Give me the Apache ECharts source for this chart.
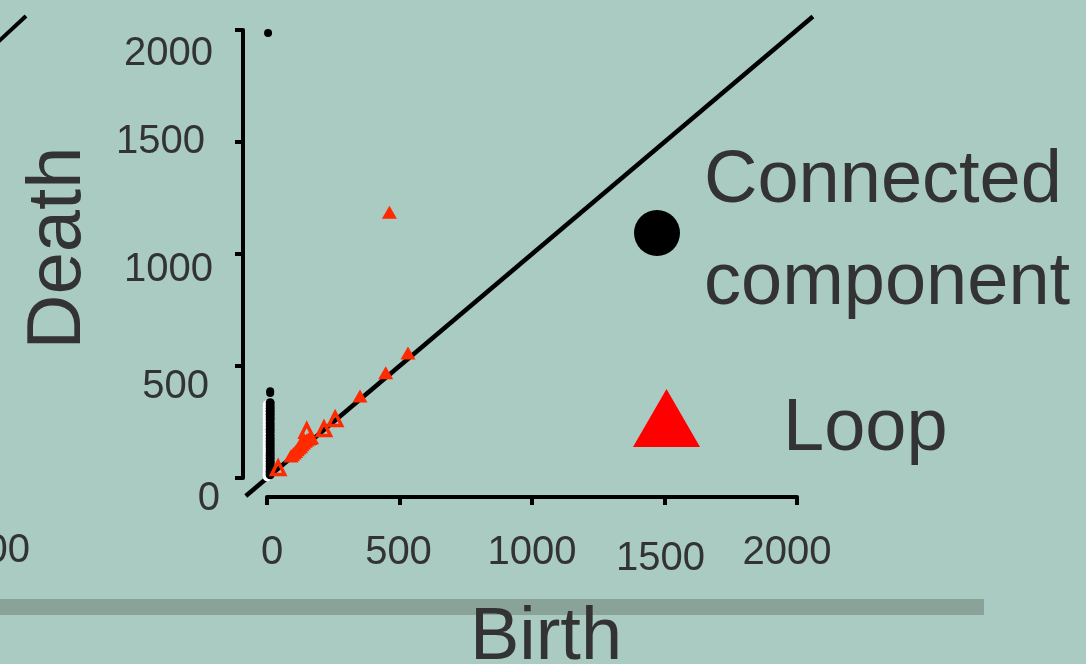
<!DOCTYPE html>
<html>
<head>
<meta charset="utf-8">
<script src="https://cdn.jsdelivr.net/npm/echarts@6/dist/echarts.min.js"></script>
<style>
  html, body { margin: 0; padding: 0; background: #a9cbc2; }
  #chart { width: 1086px; height: 664px; }
</style>
</head>
<body>
<div id="chart"></div>
<script>
// Persistence diagram: birth vs death of topological features.
const axisTicks = [0, 500, 1000, 1500, 2000];
const diagonal = [-80, 2060];

// Connected components (H0): [birth, death]
const componentColumn = [
  [12, 14], [12, 22], [12, 30], [12, 40], [12, 52], [12, 63], [12, 75], [12, 88],
  [12, 100], [12, 112], [12, 125], [12, 138], [12, 150], [12, 163], [12, 175],
  [12, 190], [12, 205], [12, 218], [12, 232], [12, 245], [12, 260], [12, 272],
  [12, 285], [12, 298], [12, 310], [12, 322], [12, 336]
];
const componentOther = [[12, 380], [12, 387], [4, 1987]];

// Loops (H1): [birth, death]
const loopsFilled = [
  [462, 1186], [532, 558], [448, 470], [351, 366],
  [90, 98], [96, 104], [102, 112], [108, 118], [114, 126], [120, 134], [126, 140],
  [132, 148], [138, 156], [144, 164], [150, 170], [156, 174], [162, 176], [168, 180],
  [140, 172], [130, 160]
];
const loopsOpen = [[42, 45], [150, 211], [215, 219], [257, 263]];

const FONT = '"Liberation Sans", Arial, sans-serif';
const TEXT = '#333333';
const RED = '#ff2a00';

// small per-tick nudges of the tick labels
const xNudge = { 0: [5, 0], 500: [-1, 0], 1000: [0, 0], 1500: [-4, 3], 2000: [-10, 0] };
const yNudge = { 0: [0, 21], 500: [11, 21], 1000: [7, 16], 1500: [15, 0], 2000: [7, 24] };

function xRich() {
  const r = {};
  axisTicks.forEach(v => {
    const [dx, dy] = xNudge[v];
    r['t' + v] = {
      fontSize: 40, color: TEXT, fontFamily: FONT,
      padding: [Math.max(dy, 0) * 2, Math.max(-dx, 0) * 2, 0, Math.max(dx, 0) * 2]
    };
  });
  return r;
}
function yRich() {
  const r = {};
  axisTicks.forEach(v => {
    const [dr, dy] = yNudge[v];
    r['t' + v] = {
      fontSize: 40, color: TEXT, fontFamily: FONT,
      padding: [Math.max(dy, 0) * 2, dr, Math.max(-dy, 0) * 2, 0]
    };
  });
  return r;
}

const chart = echarts.init(document.getElementById('chart'), null, { renderer: 'canvas' });

chart.setOption({
  backgroundColor: '#a9cbc2',
  animation: false,
  textStyle: { fontFamily: FONT },
  grid: { left: 267, top: 30, width: 530, height: 448, containLabel: false, outerBoundsMode: 'none' },
  xAxis: {
    type: 'value',
    min: axisTicks[0], max: axisTicks[axisTicks.length - 1], interval: 500,
    offset: 19,
    name: 'Birth', nameLocation: 'middle', nameGap: 105,
    nameTextStyle: { fontSize: 74, color: TEXT, fontFamily: FONT, padding: [0, 0, 0, 28] },
    axisLine: { onZero: false, lineStyle: { color: '#000', width: 4 } },
    axisTick: { length: 8, lineStyle: { color: '#000', width: 4 } },
    axisLabel: { margin: 36, formatter: v => '{t' + v + '|' + v + '}', rich: xRich() },
    splitLine: { show: false }
  },
  yAxis: {
    type: 'value',
    min: axisTicks[0], max: axisTicks[axisTicks.length - 1], interval: 500,
    offset: 24,
    name: 'Death', nameLocation: 'middle', nameGap: 146,
    nameTextStyle: { fontSize: 76, color: TEXT, fontFamily: FONT, padding: [0, 0, 0, 12] },
    axisLine: { onZero: false, lineStyle: { color: '#000', width: 4 } },
    axisTick: { length: 8, lineStyle: { color: '#000', width: 4 } },
    axisLabel: { margin: 23, formatter: v => '{t' + v + '|' + v + '}', rich: yRich() },
    splitLine: { show: false }
  },
  legend: [
    {
      data: [{ name: 'Connected component', icon: 'circle', itemStyle: { color: '#000' } }],
      left: 629, top: 126, itemWidth: 46, itemHeight: 46, selectedMode: false,
      formatter: () => 'Connected\ncomponent',
      textStyle: { fontSize: 74, lineHeight: 102, color: TEXT, fontFamily: FONT, padding: [0, 0, 0, 19] }
    },
    {
      data: [{ name: 'Loop', icon: 'triangle', itemStyle: { color: '#ff0000', borderWidth: 0 } }],
      left: 628, top: 364, itemWidth: 67, itemHeight: 58, symbolKeepAspect: false, selectedMode: false,
      formatter: name => '{l|' + name + '}',
      textStyle: {
        color: TEXT, fontFamily: FONT,
        rich: { l: { fontSize: 74, lineHeight: 80, color: TEXT, fontFamily: FONT, padding: [24, 0, 0, 78] } }
      }
    }
  ],
  graphic: [
    { type: 'rect', z: -10, shape: { x: 0, y: 599, width: 984, height: 16 }, style: { fill: '#8aa398' } },
    { type: 'line', shape: { x1: -2, y1: 42, x2: 26, y2: 16 }, style: { stroke: '#000', lineWidth: 4 } },
    { type: 'text', style: { text: '2000', x: 30, y: 551, align: 'right', verticalAlign: 'middle',
      font: '40px ' + FONT, fill: TEXT } }
  ],
  series: [
    {
      // the birth = death diagonal, drawn past both ends of the axes
      type: 'custom', silent: true, z: 1, clip: false,
      data: [[diagonal[0], diagonal[0], diagonal[1], diagonal[1]]],
      encode: { x: [0, 2], y: [1, 3] },
      renderItem: (params, api) => {
        const p0 = api.coord([api.value(0), api.value(1)]);
        const p1 = api.coord([api.value(2), api.value(3)]);
        return {
          type: 'line',
          shape: { x1: p0[0], y1: p0[1], x2: p1[0], y2: p1[1] },
          style: { stroke: '#000', lineWidth: 4.5 }
        };
      }
    },
    {
      name: 'Connected component', type: 'scatter', z: 3, symbol: 'circle', symbolSize: 8,
      data: componentOther,
      itemStyle: { color: '#000', opacity: 1 }
    },
    {
      // pale rim along the left side of the component column
      type: 'scatter', z: 2, silent: true, symbol: 'circle', symbolSize: 9, symbolOffset: [-3, 2],
      data: componentColumn,
      itemStyle: { color: '#ffffff', opacity: 1 }
    },
    {
      name: 'Connected component', type: 'scatter', z: 3, symbol: 'circle', symbolSize: 9,
      data: componentColumn,
      itemStyle: { color: '#000', opacity: 1 }
    },
    {
      name: 'Loop', type: 'scatter', z: 4, symbol: 'triangle', symbolSize: [15, 13],
      data: loopsFilled,
      itemStyle: { color: RED, opacity: 1 }
    },
    {
      name: 'Loop', type: 'scatter', z: 4, symbol: 'triangle', symbolSize: 13,
      data: loopsOpen,
      itemStyle: { color: 'rgba(0,0,0,0)', borderColor: RED, borderWidth: 3.5, opacity: 1 }
    }
  ]
});
</script>
</body>
</html>
